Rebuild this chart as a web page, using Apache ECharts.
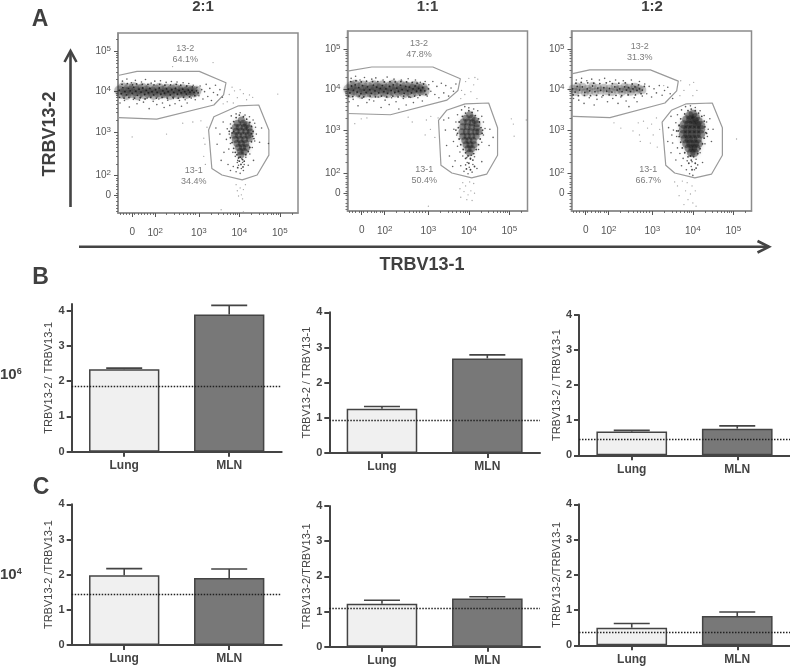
<!DOCTYPE html>
<html><head><meta charset="utf-8">
<style>html,body{margin:0;padding:0;background:#fff}#c{width:790px;height:667px}</style>
<script src="https://cdn.jsdelivr.net/npm/echarts@6/dist/echarts.min.js"></script>
</head><body><div id="c"></div>
<script>
// ---------- flow plots: values in display decades of the biexponential axes ----------
const ratios = ['2:1','1:1','1:2'];
const xTickValues = [1.35,1.92,3,4,5];
const yTickValues = [1.45,1.94,3,4,5];
const tickLabels = ['0','10^2','10^3','10^4','10^5'];
const minorTicks = [1.05,1.12,1.2,1.28,1.4,1.5,1.58,1.66,1.72,1.8,1.86,2.2,2.4,2.52,2.62,2.7,2.78,2.85,2.92,3.3,3.48,3.6,3.7,3.78,3.85,3.9,3.95,4.3,4.48,4.6,4.7,4.78,4.85,4.9,4.95,5.3];
const gatePercent1 = ['34.4%','50.4%','66.7%'];
const gatePercent2 = ['64.1%','47.8%','31.3%'];
const label2Pos = [[2.66,4.93],[2.77,5.0],[2.69,4.93]];
const label1Pos = [[2.87,1.91],[2.90,1.90],[2.90,1.90]];

const gateUpper1 = [[1,4.40],[1.47,4.50],[3.01,4.50],[3.67,4.22],[3.61,3.92],[3.37,3.67],[1.96,3.32],[1.02,3.36],[1,3.36]];
const gateLower1 = [[3.98,3.65],[4.48,3.67],[4.73,3.05],[4.73,2.43],[4.44,1.94],[4.07,1.82],[3.57,1.94],[3.32,2.10],[3.24,3.05],[3.37,3.38],[3.98,3.65]];
const gateUpper2 = [[1,4.46],[1.60,4.56],[3.11,4.56],[3.79,4.27],[3.73,3.98],[3.46,3.74],[2.06,3.38],[1,3.41]];
const gateLower2 = [[3.91,3.65],[4.49,3.67],[4.71,3.06],[4.71,2.38],[4.44,1.91],[4.07,1.82],[3.58,1.94],[3.31,2.13],[3.25,3.24],[3.45,3.49],[3.91,3.65]];
const gateUpper3 = [[1,4.39],[1.45,4.49],[2.95,4.49],[3.64,4.21],[3.60,3.97],[3.31,3.67],[1.95,3.31],[1.04,3.34],[1,3.34]];
const gateLower3 = [[3.84,3.65],[4.48,3.67],[4.73,3.06],[4.73,2.38],[4.46,1.91],[4.05,1.82],[3.55,1.94],[3.33,2.13],[3.24,3.20],[3.47,3.49],[3.84,3.65]];

const band1 = [[1.03,4.03],[1.08,3.95],[1.12,4.10],[1.17,4.00],[1.21,3.92],[1.26,4.08],[1.30,4.02],[1.35,3.96],[1.39,4.11],[1.44,4.01],[1.48,3.91],[1.52,4.06],[1.57,3.99],[1.61,4.09],[1.66,3.93],[1.70,4.03],[1.75,3.97],[1.79,4.08],[1.84,4.00],[1.88,3.92],[1.93,4.05],[1.97,3.98],[2.02,4.09],[2.06,3.94],[2.11,4.02],[2.15,3.96],[2.20,4.07],[2.24,4.00],[2.29,3.92],[2.33,4.05],[2.38,3.98],[2.42,4.08],[2.47,3.94],[2.51,4.03],[2.56,3.97],[2.60,4.06],[2.65,4.00],[2.69,3.94],[2.74,4.04],[2.78,3.99],[2.83,4.03],[2.88,3.98],[2.94,4.02]];
const blob1 = [[4.05,3.30],[3.95,3.22],[4.10,3.22],[4.18,3.18],[3.90,3.12],[4.00,3.12],[4.12,3.12],[4.24,3.10],[3.92,3.02],[4.04,3.02],[4.16,3.02],[4.27,3.00],[3.88,2.92],[3.98,2.92],[4.10,2.92],[4.22,2.92],[3.90,2.82],[4.02,2.82],[4.13,2.82],[4.25,2.84],[3.94,2.72],[4.05,2.72],[4.16,2.72],[3.98,2.62],[4.08,2.62],[4.18,2.62],[4.02,2.52],[4.12,2.52],[4.04,2.44]];
const mid1 = [[1.05,3.72],[1.11,4.26],[1.16,3.78],[1.22,4.31],[1.28,3.62],[1.33,4.22],[1.38,3.81],[1.43,4.28],[1.47,3.70],[1.53,3.79],[1.58,4.24],[1.63,3.74],[1.68,4.30],[1.72,3.84],[1.77,3.58],[1.82,4.21],[1.87,3.76],[1.91,4.26],[1.96,3.68],[2.01,3.82],[2.05,4.27],[2.10,3.72],[2.14,3.61],[2.19,4.23],[2.23,3.79],[2.28,3.66],[2.32,4.25],[2.37,3.83],[2.41,3.70],[2.46,4.24],[2.52,3.78],[2.57,3.64],[2.61,4.22],[2.66,3.80],[2.71,3.72],[2.75,4.20],[2.81,3.84],[2.86,4.16],[2.91,3.80],[2.95,4.10],[3.00,3.90],[3.03,4.14],[3.07,4.05],[3.10,3.82],[3.14,4.00],[3.18,4.18],[3.22,3.88],[3.27,4.08],[3.31,3.78],[3.36,3.98],[3.41,4.16],[3.46,3.92],[3.52,4.05],[3.58,3.86],
 [3.80,3.40],[3.92,3.45],[4.02,3.48],[4.14,3.42],[4.25,3.38],[4.34,3.30],[3.78,3.20],[3.70,3.08],[3.75,2.95],[3.68,2.82],[3.78,2.72],[3.74,2.58],[3.84,2.50],[3.90,2.40],[3.96,2.30],[4.06,2.34],[4.16,2.38],[4.26,2.46],[4.32,2.62],[4.38,2.78],[4.42,2.95],[4.40,3.12],[4.38,3.22],[3.60,3.25],[3.52,2.95],[3.45,2.70],[3.62,2.50],[3.55,2.30],[3.72,2.20],[3.85,2.15],[3.98,2.18],[4.05,2.10],[4.12,2.20],[3.92,2.02],[4.02,1.98],[4.10,2.05],[3.78,2.05],[4.22,2.18],[4.35,2.30],[4.50,2.75],[4.55,3.10],[3.42,3.10],[4.72,2.72],[3.95,2.25],[4.08,2.25]];
const edge1 = [[1.04,3.86],[1.10,4.18],[1.15,3.84],[1.23,4.20],[1.27,3.86],[1.36,4.17],[1.41,3.84],[1.46,4.19],[1.55,3.85],[1.60,4.18],[1.67,3.82],[1.74,4.18],[1.81,3.86],[1.89,4.17],[1.95,3.84],[2.03,4.18],[2.09,3.86],[2.16,4.16],[2.22,3.84],[2.30,4.17],[2.36,3.86],[2.44,4.18],[2.49,3.84],[2.55,4.16],[2.62,3.86],[2.70,4.14],[2.77,3.87],[2.84,4.12],[2.90,3.90],[2.98,3.97],
 [3.80,3.10],[3.82,2.98],[3.78,2.86],[3.82,2.74],[3.86,2.60],[3.90,2.50],[3.94,2.44],[4.30,3.14],[4.34,3.02],[4.33,2.90],[4.30,2.76],[4.26,2.62],[4.22,2.52],[4.16,2.44],[3.86,3.26],[3.92,3.36],[4.00,3.42],[4.10,3.38],[4.18,3.32],[4.26,3.24],[4.02,2.38],[4.08,2.32],[3.98,2.36],[4.12,2.28],[3.86,3.02],[4.30,2.96],[3.75,3.02],[4.36,2.84],[4.00,2.28],[4.04,2.20],[3.96,2.12],[4.09,2.14]];
const stray1 = [[3.75,3.93],[3.82,4.11],[3.88,4.02],[3.95,3.85],[4.02,4.05],[4.10,3.95],[4.18,3.80],[4.25,3.92],[4.33,3.86],[3.70,3.75],[3.60,3.70],[3.85,3.72],[4.95,3.94],[2.60,3.22],[2.85,3.25],[3.05,3.28],[3.20,3.12],[3.12,2.85],[3.15,2.70],[3.12,2.40],[3.16,2.20],[2.20,2.95],[1.35,2.88],[3.35,4.72],[2.35,4.62],[3.92,1.70],[4.02,1.62],[4.10,1.58],[4.15,1.70],[3.95,1.55],[3.55,1.08],[4.10,1.03],[4.05,1.45],[3.98,1.42],[4.08,1.35]];

const band2 = [[1.02,4.01],[1.06,3.92],[1.10,4.09],[1.15,3.98],[1.19,4.12],[1.24,3.94],[1.28,4.05],[1.33,3.90],[1.37,4.10],[1.41,3.99],[1.46,3.93],[1.50,4.07],[1.55,4.00],[1.59,3.91],[1.64,4.11],[1.68,3.97],[1.72,4.06],[1.77,3.92],[1.81,4.03],[1.86,4.10],[1.90,3.95],[1.95,4.02],[1.99,3.91],[2.04,4.08],[2.08,3.98],[2.13,4.12],[2.17,3.93],[2.22,4.04],[2.26,3.96],[2.31,4.11],[2.35,4.00],[2.40,3.91],[2.44,4.08],[2.49,3.97],[2.53,4.06],[2.58,3.92],[2.62,4.02],[2.67,4.09],[2.71,3.96],[2.76,4.03],[2.81,3.98],[2.86,4.05],[2.91,3.97]];
const blob2 = [[4.02,3.38],[3.93,3.30],[4.08,3.30],[4.15,3.24],[3.86,3.20],[3.97,3.20],[4.08,3.18],[4.20,3.16],[3.85,3.08],[3.96,3.08],[4.07,3.07],[4.19,3.06],[3.83,2.96],[3.94,2.96],[4.05,2.96],[4.17,2.96],[4.25,2.96],[3.85,2.85],[3.96,2.85],[4.07,2.85],[4.18,2.85],[3.90,2.74],[4.00,2.74],[4.11,2.74],[3.93,2.64],[4.03,2.64],[4.13,2.64],[3.98,2.54],[4.07,2.54],[4.02,2.44]];
const mid2 = [[1.04,3.70],[1.09,4.28],[1.14,3.76],[1.20,4.33],[1.26,3.60],[1.31,4.24],[1.36,3.79],[1.42,4.30],[1.48,3.68],[1.54,3.75],[1.60,4.26],[1.65,3.72],[1.70,4.29],[1.76,3.82],[1.83,3.56],[1.88,4.24],[1.93,3.74],[1.98,4.31],[2.03,3.63],[2.09,3.80],[2.15,4.26],[2.20,3.70],[2.27,3.52],[2.33,4.24],[2.38,3.78],[2.45,3.62],[2.50,4.27],[2.56,3.81],[2.63,3.68],[2.68,4.24],[2.74,3.80],[2.80,4.18],[2.85,3.72],[2.92,4.20],[2.97,3.84],[3.01,4.12],[3.06,3.96],[3.11,4.20],[3.16,3.88],[3.21,4.08],[3.26,3.80],[3.32,4.16],[3.38,3.92],[3.43,4.10],[3.50,3.84],[3.56,4.04],[3.62,3.96],[3.68,4.14],
 [3.82,3.50],[3.90,3.58],[4.00,3.55],[4.12,3.52],[4.22,3.48],[4.32,3.34],[3.72,3.38],[3.68,3.20],[3.63,3.02],[3.70,2.88],[3.62,2.72],[3.72,2.60],[3.78,2.46],[3.85,2.36],[3.95,2.32],[4.04,2.28],[4.14,2.34],[4.24,2.52],[4.32,2.70],[4.36,2.88],[4.40,3.04],[4.36,3.20],[3.50,3.30],[3.42,3.00],[3.45,2.62],[3.52,2.36],[3.66,2.24],[3.80,2.12],[3.92,2.14],[4.01,2.08],[4.10,2.15],[3.88,1.98],[3.98,1.92],[4.08,1.96],[3.60,2.10],[4.20,2.05],[4.32,2.22],[4.50,2.62],[4.52,3.02],[3.38,3.25],[4.60,2.82],[3.96,2.20],[4.06,2.38]];
const edge2 = [[1.03,3.84],[1.08,4.20],[1.13,3.83],[1.21,4.22],[1.29,3.84],[1.34,4.19],[1.40,3.82],[1.47,4.21],[1.56,3.84],[1.62,4.20],[1.69,3.82],[1.75,4.20],[1.84,3.84],[1.91,4.19],[1.97,3.82],[2.05,4.20],[2.12,3.84],[2.18,4.19],[2.25,3.82],[2.32,4.20],[2.39,3.84],[2.46,4.19],[2.52,3.82],[2.60,4.18],[2.66,3.84],[2.72,4.16],[2.79,3.86],[2.88,4.14],[2.94,3.88],[3.00,4.02],
 [3.76,3.20],[3.74,3.06],[3.72,2.92],[3.76,2.78],[3.80,2.64],[3.86,2.52],[3.92,2.44],[4.26,3.20],[4.30,3.06],[4.33,2.92],[4.28,2.78],[4.24,2.64],[4.18,2.52],[4.12,2.42],[3.84,3.34],[3.92,3.42],[4.00,3.48],[4.08,3.44],[4.16,3.36],[4.24,3.28],[3.98,2.36],[4.04,2.30],[4.10,2.26],[3.92,2.30],[4.34,3.00],[3.68,3.00],[4.00,2.18],[3.94,2.04],[4.04,2.02],[4.14,2.10]];
const stray2 = [[3.92,4.20],[4.00,4.28],[4.15,4.30],[4.22,4.26],[3.82,3.98],[3.90,3.88],[4.05,3.95],[4.12,4.12],[4.20,3.78],[3.80,3.78],[5.05,3.28],[5.42,3.25],[5.10,3.15],[5.12,2.85],[1.18,3.16],[1.34,3.28],[1.48,3.30],[2.50,3.32],[2.60,3.20],[2.95,3.25],[3.06,3.34],[3.24,3.30],[2.92,2.88],[3.16,2.82],[3.05,3.02],[3.85,1.70],[3.92,1.62],[4.02,1.72],[4.12,1.68],[3.78,1.55],[3.88,1.48],[3.98,1.40],[4.05,1.50],[4.14,1.44],[3.80,1.34],[3.95,1.28],[4.08,1.26],[3.00,1.12]];

const band3 = [[1.03,4.02],[1.09,3.94],[1.14,4.08],[1.20,3.99],[1.27,4.07],[1.33,3.93],[1.39,4.02],[1.45,3.97],[1.52,4.09],[1.58,3.95],[1.65,4.04],[1.72,3.98],[1.80,4.05],[1.87,3.96],[1.94,4.03],[2.00,3.94],[2.07,4.07],[2.13,3.99],[2.19,4.02],[2.25,3.95],[2.31,4.07],[2.36,3.99],[2.41,4.05],[2.46,3.95],[2.52,4.02],[2.57,4.07],[2.62,3.98],[2.68,4.02],[2.75,3.99]];
const blob3 = [[4.00,3.40],[3.92,3.36],[4.07,3.32],[3.84,3.26],[3.94,3.26],[4.04,3.24],[4.14,3.22],[3.78,3.14],[3.89,3.14],[3.99,3.14],[4.10,3.14],[4.20,3.12],[3.76,3.02],[3.87,3.02],[3.98,3.02],[4.09,3.02],[4.20,3.02],[3.76,2.90],[3.87,2.90],[3.98,2.90],[4.09,2.90],[4.20,2.90],[3.80,2.78],[3.90,2.78],[4.01,2.78],[4.12,2.78],[3.84,2.66],[3.94,2.66],[4.05,2.66],[4.14,2.66],[3.90,2.55],[4.00,2.55],[4.08,2.55],[3.96,2.44],[4.04,2.44]];
const mid3 = [[1.05,3.78],[1.12,4.24],[1.18,3.74],[1.25,4.28],[1.31,3.66],[1.38,4.22],[1.44,3.80],[1.50,4.26],[1.56,3.62],[1.63,3.76],[1.69,4.24],[1.75,3.82],[1.82,4.28],[1.89,3.70],[1.95,4.20],[2.02,3.78],[2.09,4.24],[2.15,3.66],[2.22,3.82],[2.28,4.22],[2.35,3.72],[2.42,3.58],[2.48,4.24],[2.55,3.80],[2.62,3.70],[2.68,4.20],[2.75,3.84],[2.81,4.14],[2.86,3.90],[2.92,4.08],[2.98,3.82],[3.04,4.02],[3.10,3.92],[3.17,4.10],[3.24,3.86],[3.30,3.98],[3.38,4.06],[3.44,3.90],[3.50,3.78],
 [3.72,3.50],[3.82,3.58],[3.94,3.60],[4.06,3.56],[4.18,3.48],[4.28,3.36],[3.62,3.38],[3.58,3.18],[3.52,3.00],[3.60,2.84],[3.50,2.68],[3.62,2.56],[3.68,2.42],[3.76,2.30],[3.86,2.24],[3.98,2.22],[4.08,2.28],[4.18,2.44],[4.30,2.66],[4.36,2.84],[4.38,3.02],[4.34,3.20],[3.46,3.34],[3.40,3.06],[3.38,2.72],[3.46,2.44],[3.58,2.26],[3.72,2.12],[3.84,2.02],[3.96,2.10],[4.04,2.02],[4.12,2.14],[3.92,1.92],[4.00,1.88],[3.48,2.88],[4.24,2.20],[4.46,2.72],[4.50,3.02],[3.66,3.10],[4.42,3.28]];
const edge3 = [[1.04,3.87],[1.11,4.16],[1.17,3.85],[1.24,4.18],[1.32,3.86],[1.40,4.17],[1.47,3.85],[1.55,4.16],[1.62,3.86],[1.70,4.15],[1.78,3.86],[1.86,4.17],[1.93,3.87],[2.01,4.15],[2.10,3.86],[2.17,4.16],[2.24,3.85],[2.33,4.17],[2.40,3.87],[2.50,4.14],[2.58,3.87],[2.66,4.12],[2.72,3.90],[2.80,4.08],
 [3.70,3.28],[3.66,3.12],[3.64,2.98],[3.66,2.84],[3.70,2.70],[3.74,2.56],[3.80,2.44],[3.88,2.34],[4.28,3.22],[4.30,3.08],[4.32,2.94],[4.28,2.80],[4.24,2.66],[4.18,2.54],[4.12,2.42],[3.80,3.40],[3.88,3.48],[3.96,3.52],[4.06,3.48],[4.14,3.42],[4.22,3.34],[3.94,2.36],[4.02,2.34],[3.96,2.26],[4.06,2.18],[3.90,2.18],[3.98,2.02],[4.08,2.06],[3.60,2.98],[4.34,2.92]];
const stray3 = [[3.28,4.10],[3.68,3.85],[3.78,3.98],[3.92,4.12],[4.02,4.18],[4.10,3.98],[4.00,3.85],[3.70,4.22],[5.08,2.78],[2.05,3.18],[2.22,3.05],[2.65,3.18],[2.78,3.22],[2.88,3.05],[2.98,3.15],[3.10,3.30],[3.18,3.02],[2.52,2.98],[2.68,2.88],[2.70,2.72],[2.95,2.68],[3.02,2.88],[3.12,2.58],[3.55,1.72],[3.62,1.62],[3.74,1.74],[3.86,1.70],[3.98,1.62],[4.06,1.50],[3.82,1.50],[3.94,1.42],[3.66,1.38],[3.88,1.28],[4.00,1.20],[3.78,1.16],[4.08,1.12]];

const gates = [[gateUpper1,gateLower1],[gateUpper2,gateLower2],[gateUpper3,gateLower3]];
const bandDots = [band1,band2,band3], blobDots = [blob1,blob2,blob3], midDots = [mid1,mid2,mid3], edgeDots = [edge1,edge2,edge3], strayDots = [stray1,stray2,stray3];

// ---------- bar panels ----------
const barCategories = ['Lung','MLN'];
const ratioMean = [[2.34,3.89],[1.26,2.69],[0.675,0.76],[1.98,1.905],[1.22,1.37],[0.50,0.83]];
const ratioUpper = [[2.37,4.15],[1.32,2.79],[0.71,0.84],[2.17,2.16],[1.32,1.42],[0.62,0.945]];
const expectedRatio = [1.85,0.94,0.456,1.45,1.09,0.37];
const barTitles = ['TRBV13-2 / TRBV13-1','TRBV13-2 / TRBV13-1','TRBV13-2 / TRBV13-1','TRBV13-2 /TRBV13-1','TRBV13-2/TRBV13-1','TRBV13-2/TRBV13-1'];
const barTicks = [0,1,2,3,4];
const barMax = [4.19,4,4,4,4,4];

// ---------- layout ----------
const flowBoxes = [[118,33],[347.5,31],[571.5,31]];
const barBoxes = [[71.7,304,210,147.7],[329.3,312.3,210.7,140.7],[579,315,211,140.3],[71.7,504.3,210,140.7],[329.3,506,210.7,140.7],[579,504.3,211,141]];
const font = '"Liberation Sans",Arial,sans-serif';
const grid=[],xAxis=[],yAxis=[],series=[];
const rich = {b:{fontSize:10,color:'#555',fontFamily:font},s:{fontSize:8,color:'#555',fontFamily:font,verticalAlign:'bottom',padding:[0,0,5,0]}};
function tickFmt(ticks){return v=>{const i=ticks.findIndex(t=>Math.abs(t-v)<1e-6);const s=tickLabels[i]||'';
  return s.includes('^')?'{b|10}{s|'+s.split('^')[1]+'}':'{b|'+s+'}';};}
const frameGray='#8c8c8c';

flowBoxes.forEach((b,i)=>{
  grid.push({left:b[0],top:b[1],width:180,height:180,show:true,borderColor:frameGray,borderWidth:1.5,backgroundColor:'#fff',containLabel:false});
  const xi=xAxis.length, yi=yAxis.length;
  const common={type:'value',min:1,max:5.45,gridIndex:i,splitLine:{show:false},axisLine:{show:true,lineStyle:{color:frameGray,width:1.5}}};
  xAxis.push({...common,position:'bottom',
    axisTick:{show:true,length:4,lineStyle:{color:'#555',width:1},customValues:xTickValues},
    axisLabel:{show:true,margin:14,rich,customValues:xTickValues,formatter:tickFmt(xTickValues)}});
  xAxis.push({...common,position:'bottom',axisLine:{show:false},axisLabel:{show:false},
    axisTick:{show:true,length:2,lineStyle:{color:'#555',width:.8},customValues:minorTicks}});
  yAxis.push({...common,position:'left',
    axisTick:{show:true,length:4,lineStyle:{color:'#555',width:1},customValues:yTickValues},
    axisLabel:{show:true,margin:7,rich,customValues:yTickValues,formatter:tickFmt(yTickValues)}});
  yAxis.push({...common,position:'left',axisLine:{show:false},axisLabel:{show:false},
    axisTick:{show:true,length:2,lineStyle:{color:'#555',width:.8},customValues:minorTicks}});
  const ax={xAxisIndex:xi,yAxisIndex:yi,silent:true,animation:false};
  gates[i].forEach(g=>series.push({...ax,type:'line',data:g,showSymbol:false,symbol:'none',z:2,lineStyle:{color:'#9a9a9a',width:1.2}}));
  series.push({...ax,type:'scatter',data:strayDots[i],symbolSize:1.3,z:3,itemStyle:{color:'#8a8a8a',opacity:.8}});
  series.push({...ax,type:'scatter',data:midDots[i],symbolSize:1.6,z:3,itemStyle:{color:'#444',opacity:.85}});
  // soft density underlay, then the same events as fine dark specks
  series.push({...ax,type:'scatter',data:bandDots[i],symbolSize:i==2?8:10,z:4,itemStyle:{color:'#3a3a3a',opacity:i==2?.24:.3,shadowBlur:3,shadowColor:'rgba(60,60,60,.4)'}});
  series.push({...ax,type:'scatter',data:blobDots[i],symbolSize:i==2?8.5:7,z:4,itemStyle:{color:'#1c1c1c',opacity:.42,shadowBlur:4,shadowColor:'rgba(40,40,40,.45)'}});
  series.push({...ax,type:'scatter',data:edgeDots[i],symbolSize:1.8,z:5,itemStyle:{color:'#222',opacity:.85}});
  series.push({...ax,type:'scatter',data:bandDots[i],symbolSize:1.8,z:5,itemStyle:{color:'#111',opacity:.75}});
  const lab=(p,txt)=>series.push({...ax,type:'scatter',data:[p],symbolSize:0,z:5,
    label:{show:true,position:'inside',formatter:txt,fontSize:9,lineHeight:11,color:'#5a5a5a',fontFamily:font}});
  lab(label2Pos[i],'13-2\n'+gatePercent2[i]);
  lab(label1Pos[i],'13-1\n'+gatePercent1[i]);
});

barBoxes.forEach((b,i)=>{
  const gi=grid.length;
  grid.push({left:b[0],top:b[1],width:b[2],height:b[3],containLabel:false});
  const xi=xAxis.length, yi=yAxis.length;
  xAxis.push({type:'category',data:barCategories,gridIndex:gi,
    axisLine:{show:true,lineStyle:{color:'#444',width:2}},
    axisTick:{show:true,alignWithLabel:true,length:5,lineStyle:{color:'#444',width:2}},
    axisLabel:{margin:8,fontSize:12,fontWeight:'bold',color:'#444',fontFamily:font}});
  yAxis.push({type:'value',min:0,max:barMax[i],gridIndex:gi,splitLine:{show:false},
    name:barTitles[i],nameLocation:'middle',nameGap:17,nameRotate:90,nameMoveOverlap:false,
    nameTextStyle:{fontSize:11,color:'#444',fontFamily:font,fontWeight:500},
    axisLine:{show:true,lineStyle:{color:'#444',width:2}},
    axisTick:{show:true,length:5,lineStyle:{color:'#444',width:2},customValues:barTicks},
    axisLabel:{margin:7,fontSize:11,fontWeight:'bold',color:'#444',fontFamily:font,customValues:barTicks}});
  const ax={xAxisIndex:xi,yAxisIndex:yi,animation:false,silent:true};
  series.push({...ax,type:'line',data:[],z:1,markLine:{silent:true,symbol:'none',animation:false,label:{show:false},
    lineStyle:{color:'#222',type:[1.5,1.5],width:1.3},data:[{yAxis:expectedRatio[i]}]}});
  series.push({...ax,type:'bar',barWidth:'67%',z:3,
    data:[{value:ratioMean[i][0],itemStyle:{color:'#f0f0f0',borderColor:'#444',borderWidth:1.5}},
          {value:ratioMean[i][1],itemStyle:{color:'#787878',borderColor:'#444',borderWidth:1.5}}]});
  series.push({...ax,type:'custom',z:2,data:ratioUpper[i].map((u,k)=>[k,ratioMean[i][k],u]),
    renderItem:(p,api)=>{
      const a=api.coord([api.value(0),api.value(1)]), t=api.coord([api.value(0),api.value(2)]);
      const st={stroke:'#444',lineWidth:1.6,fill:'none'};
      return {type:'group',children:[
        {type:'line',shape:{x1:a[0],y1:a[1],x2:t[0],y2:t[1]},style:st},
        {type:'line',shape:{x1:t[0]-18,y1:t[1],x2:t[0]+18,y2:t[1]},style:st}]};
    }});
});

const txt=(x,y,text,size,extra={})=>({type:'text',x,y,z:20,style:{text,fontSize:size,fontWeight:'bold',fontFamily:font,fill:'#404040',align:'center',verticalAlign:'middle',...extra}});
const arrow=(pts)=>({type:'polyline',z:20,shape:{points:pts},style:{stroke:'#444',lineWidth:2.6,fill:'none'}});
const graphic=[
  txt(40,19.5,'A',23),txt(40.5,277.5,'B',23),txt(41,488,'C',23),
  txt(203,7,ratios[0],15),txt(427.5,7,ratios[1],15),txt(652,7,ratios[2],15),
  txt(422,265,'TRBV13-1',18),
  {type:'text',x:50,y:134,rotation:Math.PI/2,z:20,style:{text:'TRBV13-2',fontSize:18,fontWeight:'bold',fontFamily:font,fill:'#404040',align:'center',verticalAlign:'middle'}},
  arrow([[70.5,207],[70.5,51]]),arrow([[64.5,62],[70.5,51],[76.5,62]]),
  arrow([[79,246.8],[769,246.8]]),arrow([[757.5,241],[769,246.8],[757.5,252.5]]),
  {type:'text',x:0,y:375,z:20,style:{text:'{a|10}{c|6}',verticalAlign:'middle',rich:{a:{fontSize:15,fontWeight:'bold',fontFamily:font,fill:'#404040'},c:{fontSize:9,fontWeight:'bold',fontFamily:font,fill:'#404040',verticalAlign:'bottom',padding:[0,0,6,0]}}}},
  {type:'text',x:0,y:575,z:20,style:{text:'{a|10}{c|4}',verticalAlign:'middle',rich:{a:{fontSize:15,fontWeight:'bold',fontFamily:font,fill:'#404040'},c:{fontSize:9,fontWeight:'bold',fontFamily:font,fill:'#404040',verticalAlign:'bottom',padding:[0,0,6,0]}}}}
];

const chart=echarts.init(document.getElementById('c'),null,{renderer:'canvas'});
chart.setOption({animation:false,backgroundColor:'#fff',tooltip:{show:false},legend:{show:false},grid,xAxis,yAxis,series,graphic});
</script></body></html>
